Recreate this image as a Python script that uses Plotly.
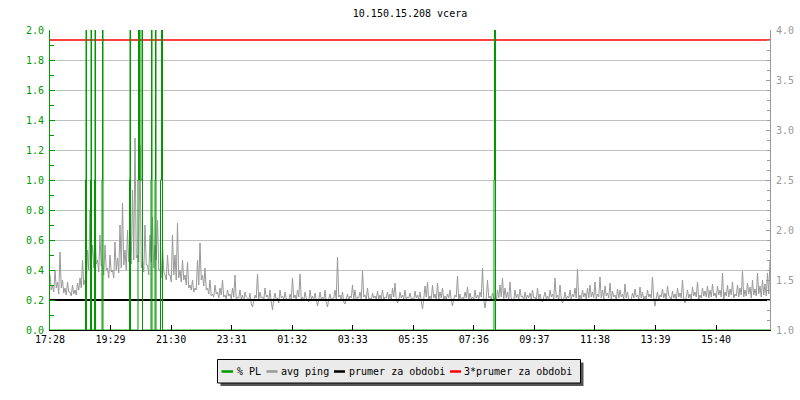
import plotly.graph_objects as go

TITLE = "10.150.15.208 vcera"
X_TICK_LABELS = ["17:28", "19:29", "21:30", "23:31", "01:32", "03:33",
                 "05:35", "07:36", "09:37", "11:38", "13:39", "15:40"]
LEGEND_NAMES = ["% PL", "avg ping", "prumer za obdobi", "3*prumer za obdobi"]
PERIOD_MIN = 1440          # length of the shown period in minutes
TICK_STEP_MIN = 121.1      # spacing of the time labels in minutes
PING_STEP_MIN = 5          # sampling step of avg ping

# avg ping [ms] read at every 5th minute from 17:28 (right axis)
avg_ping_a = [
    1.55, 1.45, 1.60, 1.48, 1.78, 1.50, 1.42, 1.48, 1.38, 1.45, 1.40, 1.47,
    1.52, 1.70, 1.50, 1.80, 2.20, 1.85, 2.05, 1.70, 1.95, 1.65, 1.85, 1.62,
    1.75, 1.60, 1.88, 1.72, 2.05, 2.27, 1.80, 2.00, 1.78, 2.40, 2.92, 1.75,
    2.85, 1.70, 2.05, 1.65, 1.95, 2.13, 1.85, 2.10, 1.60, 1.85, 1.55, 1.75,
    1.55, 1.95, 1.75, 2.07, 1.60, 1.70, 1.55, 1.68, 1.45, 1.50, 1.42, 1.70,
    1.87, 1.55, 1.62, 1.42, 1.50, 1.36, 1.45, 1.38, 1.42, 1.50, 1.35, 1.40,
    1.36, 1.42, 1.55, 1.33, 1.40, 1.35, 1.38, 1.32, 1.37, 1.23, 1.35, 1.56,
    1.38, 1.33, 1.42, 1.35, 1.40, 1.20, 1.37, 1.32, 1.40, 1.34, 1.38, 1.31,
    1.36, 1.52, 1.35, 1.40, 1.56, 1.33, 1.38, 1.30, 1.40, 1.34, 1.37, 1.24,
    1.38, 1.33, 1.40, 1.23, 1.36, 1.32, 1.40, 1.73, 1.35, 1.38, 1.26, 1.36,
    1.34, 1.45, 1.40, 1.33, 1.38, 1.59, 1.35, 1.42, 1.32, 1.37, 1.34, 1.39,
    1.35, 1.40, 1.33, 1.38, 1.36, 1.42, 1.47, 1.27, 1.38, 1.35, 1.40, 1.33,
    1.37, 1.32, 1.39, 1.35, 1.38, 1.21, 1.44, 1.48, 1.34, 1.45, 1.36, 1.47,
    1.38, 1.42, 1.34, 1.36, 1.40, 1.24, 1.35, 1.54, 1.36, 1.33, 1.38, 1.43,
    1.37, 1.33, 1.40, 1.35, 1.38, 1.62, 1.22, 1.50, 1.34, 1.37, 1.32, 1.40,
    1.45, 1.52, 1.42, 1.38, 1.48, 1.30, 1.40, 1.36, 1.41, 1.34, 1.38, 1.35,
    1.37, 1.40, 1.33, 1.42, 1.36, 1.28, 1.38, 1.34, 1.40, 1.36, 1.52, 1.35,
    1.45, 1.27, 1.38, 1.34, 1.40, 1.36, 1.42, 1.61, 1.35, 1.40, 1.37, 1.42,
    1.45, 1.38, 1.48, 1.36, 1.53, 1.40, 1.44, 1.37, 1.47, 1.39, 1.35, 1.41,
    1.40, 1.36, 1.46, 1.38, 1.29, 1.37, 1.41, 1.35, 1.43, 1.38, 1.34, 1.40,
    1.36, 1.53, 1.24, 1.38, 1.35, 1.41, 1.37, 1.44, 1.33, 1.39, 1.36, 1.42,
    1.37, 1.50, 1.27, 1.40, 1.36, 1.43, 1.38, 1.48, 1.35, 1.42, 1.39, 1.44,
    1.40, 1.46, 1.37, 1.44, 1.40, 1.57, 1.38, 1.45, 1.41, 1.48, 1.36, 1.45,
    1.42, 1.59, 1.40, 1.47, 1.43, 1.50, 1.41, 1.57, 1.44, 1.50, 1.46, 1.57,
    1.70,
]
# avg ping [ms] read half-way between those samples (lower edge of the band)
avg_ping_b = [
    1.40, 1.38, 1.42, 1.36, 1.42, 1.37, 1.35, 1.38, 1.34, 1.36, 1.35, 1.40,
    1.42, 1.45, 1.43, 1.60, 1.65, 1.62, 1.66, 1.58, 1.64, 1.55, 1.60, 1.52,
    1.58, 1.52, 1.60, 1.57, 1.62, 1.65, 1.60, 1.68, 1.66, 1.70, 1.72, 1.68,
    1.62, 1.58, 1.65, 1.55, 1.68, 1.62, 1.70, 1.60, 1.52, 1.58, 1.50, 1.55,
    1.48, 1.55, 1.50, 1.52, 1.48, 1.50, 1.45, 1.42, 1.40, 1.38, 1.40, 1.45,
    1.50, 1.44, 1.40, 1.36, 1.34, 1.33, 1.36, 1.32, 1.35, 1.33, 1.31, 1.34,
    1.31, 1.33, 1.30, 1.32, 1.31, 1.29, 1.33, 1.30, 1.26, 1.30, 1.32, 1.31,
    1.32, 1.30, 1.33, 1.29, 1.28, 1.31, 1.30, 1.27, 1.32, 1.30, 1.31, 1.29,
    1.31, 1.32, 1.30, 1.33, 1.31, 1.29, 1.32, 1.28, 1.31, 1.30, 1.32, 1.30,
    1.31, 1.29, 1.28, 1.31, 1.30, 1.32, 1.31, 1.33, 1.30, 1.28, 1.31, 1.30,
    1.32, 1.31, 1.30, 1.32, 1.31, 1.33, 1.30, 1.31, 1.29, 1.32, 1.31, 1.30,
    1.31, 1.30, 1.32, 1.31, 1.29, 1.33, 1.31, 1.30, 1.32, 1.31, 1.30, 1.32,
    1.31, 1.30, 1.32, 1.31, 1.29, 1.31, 1.33, 1.30, 1.31, 1.32, 1.30, 1.31,
    1.32, 1.30, 1.31, 1.32, 1.30, 1.31, 1.33, 1.30, 1.29, 1.31, 1.32, 1.30,
    1.31, 1.30, 1.32, 1.31, 1.33, 1.30, 1.31, 1.32, 1.30, 1.31, 1.30, 1.32,
    1.33, 1.31, 1.32, 1.30, 1.31, 1.29, 1.32, 1.31, 1.33, 1.30, 1.31, 1.32,
    1.31, 1.32, 1.30, 1.31, 1.30, 1.32, 1.31, 1.30, 1.33, 1.31, 1.32, 1.30,
    1.32, 1.31, 1.30, 1.32, 1.31, 1.33, 1.32, 1.30, 1.31, 1.33, 1.31, 1.32,
    1.33, 1.32, 1.31, 1.33, 1.32, 1.31, 1.34, 1.32, 1.31, 1.33, 1.30, 1.32,
    1.33, 1.31, 1.32, 1.30, 1.31, 1.32, 1.33, 1.31, 1.32, 1.30, 1.31, 1.33,
    1.32, 1.31, 1.32, 1.30, 1.33, 1.32, 1.31, 1.34, 1.30, 1.32, 1.31, 1.33,
    1.32, 1.31, 1.33, 1.32, 1.31, 1.34, 1.33, 1.31, 1.32, 1.34, 1.33, 1.32,
    1.33, 1.34, 1.32, 1.35, 1.33, 1.31, 1.34, 1.33, 1.35, 1.32, 1.34, 1.33,
    1.35, 1.33, 1.34, 1.36, 1.32, 1.35, 1.34, 1.36, 1.33, 1.35, 1.34, 1.36,
]

# packet loss [%] (left axis): minutes from 17:28 with non-zero loss
pl_minutes = [71, 72, 81, 82, 89, 90, 104, 105, 159, 160,
              176, 177, 178, 179, 180, 181, 182, 183, 184,
              202, 203, 210, 211, 221, 222, 223, 224,
              888, 889, 890]
pl_values = [1.0, 2.0, 1.0, 2.0, 1.0, 2.0, 1.0, 2.0, 1.0, 2.0,
             1.0, 2.0, 1.0, 2.0, 1.0, 1.0, 1.0, 1.0, 2.0,
             1.0, 2.0, 1.0, 2.0, 1.0, 1.0, 2.0, 2.0,
             1.0, 2.0, 2.0]

prumer_za_obdobi = 1.3   # average ping for the period [ms]

GREEN = "#009900"
GRAY = "#999999"
RED = "#ff0000"
FONT = "DejaVu Sans Mono"

# ---- build series -------------------------------------------------------
ping_x, ping_y = [], []
for i, v in enumerate(avg_ping_a):
    ping_x.append(i * PING_STEP_MIN)
    ping_y.append(v)
    if i < len(avg_ping_b):
        ping_x.append(i * PING_STEP_MIN + PING_STEP_MIN / 2)
        ping_y.append(avg_ping_b[i])

pl_lookup = dict(zip(pl_minutes, pl_values))
pl_x = list(range(PERIOD_MIN + 1))
pl_y = [pl_lookup.get(m, 0.0) for m in pl_x]

fig = go.Figure()
fig.add_trace(go.Scatter(
    x=ping_x, y=ping_y, name=LEGEND_NAMES[1], mode="lines",
    line=dict(color=GRAY, width=1), yaxis="y", showlegend=False))
fig.add_trace(go.Scatter(
    x=[0, PERIOD_MIN], y=[3 * prumer_za_obdobi] * 2, name=LEGEND_NAMES[3],
    mode="lines", line=dict(color=RED, width=1.3), yaxis="y", showlegend=False))
fig.add_trace(go.Scatter(
    x=[0, PERIOD_MIN], y=[prumer_za_obdobi] * 2, name=LEGEND_NAMES[2],
    mode="lines", line=dict(color="black", width=2.2), yaxis="y", showlegend=False))
fig.add_trace(go.Scatter(
    x=pl_x, y=pl_y, name=LEGEND_NAMES[0], mode="lines",
    line=dict(color=GREEN, width=1, shape="hv"), yaxis="y2", showlegend=False))

# ---- legend box drawn below the plot (pixel layout -> paper coords) ------
L, T, W, H = 50, 30, 720, 300


def px(x):
    return (x - L) / W


def py(y):
    return (T + H - y) / H


shapes = [
    dict(type="rect", xref="paper", yref="paper",
         x0=px(220.5), x1=px(583.5), y0=py(386), y1=py(362.5),
         fillcolor="#555555", line=dict(width=0)),
    dict(type="rect", xref="paper", yref="paper",
         x0=px(217.5), x1=px(580.5), y0=py(383), y1=py(359.5),
         fillcolor="#ebebeb", line=dict(color="black", width=1)),
]
annotations = []
legend_items = [(GREEN, 221.5, 233, 235.5), (GRAY, 266.5, 277.5, 278.5),
                ("black", 334, 345, 346.5), (RED, 450, 461, 461.5)]
for (col, sx0, sx1, tx), name in zip(legend_items, LEGEND_NAMES):
    shapes.append(dict(type="line", xref="paper", yref="paper",
                       x0=px(sx0), x1=px(sx1), y0=py(371.5), y1=py(371.5),
                       line=dict(color=col, width=2.5)))
    annotations.append(dict(text=name, xref="paper", yref="paper",
                            x=px(tx), y=py(371), xanchor="left", yanchor="middle",
                            showarrow=False,
                            font=dict(family=FONT, size=10, color="black")))

fig.update_layout(
    width=800, height=400,
    margin=dict(l=L, r=800 - L - W, t=T, b=400 - T - H, autoexpand=False),
    paper_bgcolor="white", plot_bgcolor="white",
    font=dict(family=FONT, size=10, color="black"),
    title=dict(text=TITLE, x=0.5, xref="paper", xanchor="center",
               y=1 - 13 / 400, yref="container", yanchor="middle",
               font=dict(family=FONT, size=10, color="black"),
               automargin=False),
    showlegend=False,
    shapes=shapes,
    annotations=annotations,
    xaxis=dict(range=[0, PERIOD_MIN], automargin=False,
               tickmode="array",
               tickvals=[i * TICK_STEP_MIN for i in range(len(X_TICK_LABELS))],
               ticktext=X_TICK_LABELS,
               ticks="inside", ticklen=5, tickcolor="black",
               showline=True, linecolor="black", linewidth=1,
               showgrid=False, zeroline=False,
               tickfont=dict(family=FONT, size=10, color="black")),
    yaxis=dict(range=[1, 4], side="right", tick0=1, dtick=0.5, tickformat=".1f",
               automargin=False,
               ticks="inside", ticklen=4, tickcolor=GRAY,
               showline=True, linecolor=GRAY, linewidth=1,
               showgrid=False, zeroline=False, ticklabelstandoff=3,
               tickfont=dict(family=FONT, size=10, color=GRAY),
               minor=dict(dtick=0.1, ticks="inside", ticklen=3, tickcolor=GRAY,
                          showgrid=False)),
    yaxis2=dict(range=[0, 2], side="left", overlaying="y", tick0=0, dtick=0.2,
                tickformat=".1f", automargin=False,
                ticks="inside", ticklen=5, tickcolor=GREEN,
                showline=True, linecolor=GREEN, linewidth=1,
                showgrid=True, gridcolor="#c0c0c0", gridwidth=1, zeroline=False,
                ticklabelstandoff=3,
                tickfont=dict(family=FONT, size=10, color=GREEN),
                minor=dict(dtick=0.1, ticks="inside", ticklen=4, tickcolor=GREEN,
                           showgrid=False)),
)

fig.write_html("out.html", config={"displayModeBar": False},
               post_script="document.body.style.margin='0';")
